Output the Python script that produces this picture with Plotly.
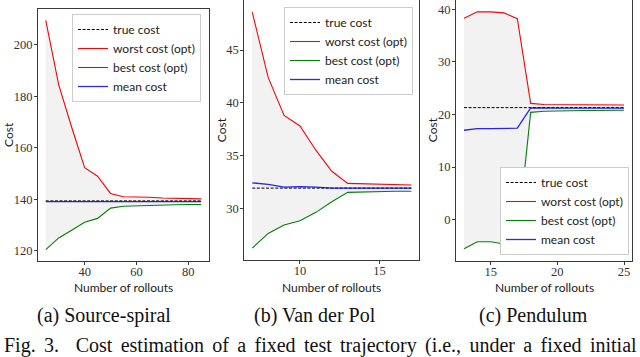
import plotly.graph_objects as go

# (a) Source-spiral
A_X = [25, 30, 35, 40, 45, 50, 55, 60, 65, 70, 75, 80, 85]
A_WORST = [209.5, 184.5, 168.0, 152.3, 149.0, 142.3, 141.0, 141.0, 140.8, 140.5, 140.4, 140.3, 140.2]
A_BEST = [120.5, 125.0, 128.0, 131.1, 132.6, 136.6, 137.3, 137.5, 137.7, 137.8, 137.9, 138.0, 138.0]
A_MEAN = [139.1, 139.1, 139.1, 139.1, 139.1, 139.1, 139.1, 139.1, 139.1, 139.1, 139.1, 139.1, 139.1]
A_TRUE = 139.4

# (b) Van der Pol
B_X = [7, 8, 9, 10, 11, 12, 13, 14, 15, 16, 17]
B_WORST = [48.6, 42.4, 38.8, 37.8, 35.5, 33.5, 32.35, 32.3, 32.25, 32.2, 32.2]
B_BEST = [26.2, 27.6, 28.4, 28.8, 29.6, 30.6, 31.5, 31.55, 31.6, 31.6, 31.6]
B_MEAN = [32.4, 32.25, 32.0, 32.05, 32.0, 31.9, 31.9, 31.9, 31.9, 31.9, 31.9]
B_TRUE = 31.9

# (c) Pendulum
C_X = [13, 14, 15, 16, 17, 18, 19, 20, 21, 22, 23, 24, 25]
C_WORST = [38.3, 39.5, 39.5, 39.3, 38.2, 22.1, 21.9, 21.9, 21.85, 21.8, 21.8, 21.8, 21.8]
C_BEST = [-5.5, -4.2, -4.2, -4.6, -3.8, 20.4, 20.6, 20.7, 20.7, 20.75, 20.8, 20.8, 20.8]
C_MEAN = [17.0, 17.3, 17.3, 17.3, 17.4, 21.25, 21.2, 21.2, 21.2, 21.2, 21.2, 21.2, 21.2]
C_TRUE = 21.3

CAPTIONS = ["(a) Source-spiral", "(b) Van der Pol", "(c) Pendulum"]
FIG_CAPTION = "Fig. 3.  Cost estimation of a fixed test trajectory (i.e., under a fixed initial"

SANS = "Lato"
SERIF = "Liberation Serif"
AXIS = "#3a3a3a"
FILL = "#f2f2f2"

panels = [
    dict(x=A_X, worst=A_WORST, best=A_BEST, mean=A_MEAN, true=A_TRUE,
         xdom=[38 / 640, 209 / 640], ydom=[1 - 261 / 357, 1 - 9 / 357],
         xr=[22, 88], yr=[116.05, 213.95], xt=[40, 60, 80], yt=[120, 140, 160, 180, 200],
         leg=dict(x=201 / 640, y=1 - 14 / 357, xanchor="right", yanchor="top"),
         ylab_x=8, cap_x=104),
    dict(x=B_X, worst=B_WORST, best=B_BEST, mean=B_MEAN, true=B_TRUE,
         xdom=[244.3 / 640, 419.3 / 640], ydom=[1 - 260 / 357, 1 - 0.3 / 357],
         xr=[6.5, 17.5], yr=[25.08, 49.72], xt=[10, 15], yt=[30, 35, 40, 45],
         leg=dict(x=413 / 640, y=1 - 7 / 357, xanchor="right", yanchor="top"),
         ylab_x=221, cap_x=315),
    dict(x=C_X, worst=C_WORST, best=C_BEST, mean=C_MEAN, true=C_TRUE,
         xdom=[456 / 640, 632 / 640], ydom=[1 - 260.5 / 357, 1.0],
         xr=[12.4, 25.6], yr=[-7.75, 41.75], xt=[15, 20, 25], yt=[0, 10, 20, 30, 40],
         leg=dict(x=629 / 640, y=1 - 255 / 357, xanchor="right", yanchor="bottom"),
         ylab_x=432, cap_x=533),
]

fig = go.Figure()
annotations = []
layout = {}

for i, p in enumerate(panels, start=1):
    sfx = "" if i == 1 else str(i)
    xa, ya = "x" + sfx, "y" + sfx
    legend = "legend" + sfx

    # shaded band between best and worst
    fig.add_trace(go.Scatter(x=p["x"], y=p["best"], mode="lines", line=dict(width=0),
                             showlegend=False, hoverinfo="skip", xaxis=xa, yaxis=ya))
    fig.add_trace(go.Scatter(x=p["x"], y=p["worst"], mode="lines", line=dict(width=0),
                             fill="tonexty", fillcolor=FILL, showlegend=False,
                             hoverinfo="skip", xaxis=xa, yaxis=ya))

    fig.add_trace(go.Scatter(x=p["x"], y=[p["true"]] * len(p["x"]), mode="lines",
                             name="true cost", line=dict(color="black", width=1, dash="3px,1.6px"),
                             xaxis=xa, yaxis=ya, legend=legend))
    fig.add_trace(go.Scatter(x=p["x"], y=p["worst"], mode="lines", name="worst cost (opt)",
                             line=dict(color="#ff0000", width=1.1), xaxis=xa, yaxis=ya, legend=legend))
    fig.add_trace(go.Scatter(x=p["x"], y=p["best"], mode="lines", name="best cost (opt)",
                             line=dict(color="#008000", width=1.1), xaxis=xa, yaxis=ya, legend=legend))
    fig.add_trace(go.Scatter(x=p["x"], y=p["mean"], mode="lines", name="mean cost",
                             line=dict(color="#0000ff", width=1.3), opacity=0.85,
                             xaxis=xa, yaxis=ya, legend=legend))

    common = dict(showline=True, mirror=True, linecolor=AXIS, linewidth=1, showgrid=False,
                  zeroline=False, ticks="outside", ticklen=3, tickcolor=AXIS, tickwidth=1,
                  tickfont=dict(family=SERIF, size=12.5, color="#333"))
    layout["xaxis" + sfx] = dict(common, domain=p["xdom"], range=p["xr"], tickvals=p["xt"],
                                 anchor=ya, ticklabelstandoff=-4)
    layout["yaxis" + sfx] = dict(common, domain=p["ydom"], range=p["yr"], tickvals=p["yt"],
                                 anchor=xa, ticklabelstandoff=-1)
    layout[legend] = dict(p["leg"], xref="paper", yref="paper", bgcolor="white",
                          bordercolor="#cccccc", borderwidth=1, traceorder="normal",
                          font=dict(family=SANS, size=12, color="#222"))

    ymid = (p["ydom"][0] + p["ydom"][1]) / 2
    xmid = (p["xdom"][0] + p["xdom"][1]) / 2
    annotations.append(dict(text="Cost", x=p["ylab_x"] / 640, y=ymid, xref="paper", yref="paper",
                            textangle=-90, showarrow=False, xanchor="center", yanchor="middle",
                            font=dict(family=SANS, size=12, color="#222")))
    annotations.append(dict(text="Number of rollouts", x=xmid, y=1 - 287 / 357, xref="paper",
                            yref="paper", showarrow=False, xanchor="center", yanchor="middle",
                            font=dict(family=SANS, size=12, color="#222")))
    annotations.append(dict(text=CAPTIONS[i - 1], x=p["cap_x"] / 640, y=1 - 315 / 357,
                            xref="paper", yref="paper", showarrow=False, xanchor="center",
                            yanchor="middle", font=dict(family=SERIF, size=20, color="#111")))

# justified caption line: widen the gaps a little with six-per-em spaces
caption = FIG_CAPTION.replace(" ", " \u2006")
annotations.append(dict(text=caption, x=2 / 640, y=1 - 345 / 357, xref="paper", yref="paper",
                        showarrow=False, xanchor="left", yanchor="middle",
                        font=dict(family=SERIF, size=20, color="#111")))

fig.update_layout(
    **layout,
    annotations=annotations,
    width=640,
    height=357,
    margin=dict(l=0, r=0, t=0, b=0),
    paper_bgcolor="white",
    plot_bgcolor="white",
    showlegend=True,
)

fig.write_html("out.html", config={"displayModeBar": False},
               post_script="document.body.style.margin='0';")
